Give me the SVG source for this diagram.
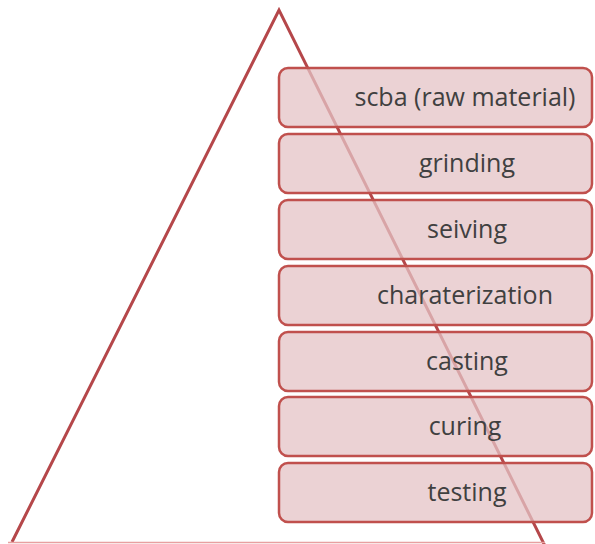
<svg xmlns="http://www.w3.org/2000/svg" width="595" height="544" viewBox="0 0 595 544">
<style>
.tri{fill:none;stroke:#b5474a;stroke-width:3;stroke-linejoin:miter}
.box rect{fill:#e4c3c6;fill-opacity:0.75;stroke:#c0504d;stroke-width:2.5}
.box text{font-family:"Open Sans","Liberation Sans",sans-serif;font-size:25px;fill:#404040;text-anchor:middle}
</style>
<rect width="595" height="544" fill="#ffffff"/>
<g id="pyramid">
<polyline class="tri" points="12,542 279,10 545,546"/>
<line x1="8" y1="542.5" x2="545" y2="542.5" stroke="#e8a0a0" stroke-width="1.5"/>
</g>
<g id="scba" class="box"><rect x="279" y="68" width="313" height="59" rx="9"/><text x="465" y="106">scba (raw material)</text></g>
<g id="grinding" class="box"><rect x="279" y="134" width="313" height="59" rx="9"/><text x="467" y="172">grinding</text></g>
<g id="seiving" class="box"><rect x="279" y="200" width="313" height="59" rx="9"/><text x="467" y="238">seiving</text></g>
<g id="charaterization" class="box"><rect x="279" y="266" width="313" height="59" rx="9"/><text x="465" y="304">charaterization</text></g>
<g id="casting" class="box"><rect x="279" y="332" width="313" height="59" rx="9"/><text x="467" y="370">casting</text></g>
<g id="curing" class="box"><rect x="279" y="397" width="313" height="59" rx="9"/><text x="465" y="435">curing</text></g>
<g id="testing" class="box"><rect x="279" y="463" width="313" height="59" rx="9"/><text x="467" y="501">testing</text></g>
</svg>
